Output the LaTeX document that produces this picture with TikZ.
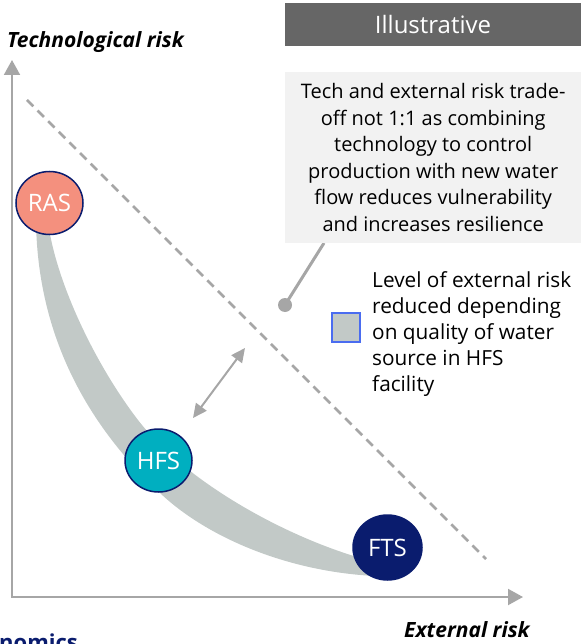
\documentclass[tikz,border=0pt]{standalone}
\usepackage{fontspec}
\setmainfont{Open Sans}
\usetikzlibrary{arrows.meta,shapes.geometric}
\definecolor{navy}{HTML}{0A1C6E}
\definecolor{axisgray}{HTML}{A6A6A6}
\definecolor{bandgray}{HTML}{C2C9C7}
\definecolor{tagdark}{HTML}{666666}
\definecolor{notebg}{HTML}{F2F2F2}
\definecolor{rasfill}{HTML}{F4907E}
\definecolor{hfsfill}{HTML}{00AFC0}
\definecolor{legendblue}{HTML}{4A6CF0}
\tikzset{
  bigtip/.tip={Triangle[length=15pt,width=16pt]},
  smalltip/.tip={Triangle[length=14pt,width=13pt]}
}
\begin{document}
\begin{tikzpicture}[x=1pt,y=-1pt,
  axisline/.style={draw=axisgray, line width=2pt},
  tech/.style={ellipse, minimum width=67pt, minimum height=63pt, inner sep=0pt,
    text=white, font=\fontsize{24}{28}\selectfont, line width=1.5pt, draw=navy},
  axislabel/.style={font=\fontsize{21}{25}\selectfont\bfseries\itshape, inner sep=0pt},
  bodytext/.style={font=\fontsize{20}{26.5}\selectfont, inner sep=0pt}
]
\useasboundingbox (0,0) rectangle (583,644);

% risk band between the three production systems
\fill[bandgray]
  (48,222) .. controls (56,282) and (95,364) .. (138,420)
  .. controls (188,485) and (295,542) .. (375,562)
  -- (375,576)
  .. controls (285,571.5) and (205,535.8) .. (160,493)
  .. controls (95,432) and (38,345) .. (36,222)
  -- cycle;

% axes
\coordinate (origin) at (12,597);
\coordinate (ytip) at (12,60);
\coordinate (xtip) at (523,597);
\draw[axisline, bigtip-bigtip] (ytip) -- (origin) -- (xtip);
\node[axislabel, anchor=base west] (ylabel) at (7,48) {Technological risk};
\node[axislabel, anchor=base west] (xlabel) at (404,637) {External risk};

% 1:1 trade-off line
\coordinate (dashA) at (27,100);
\coordinate (dashB) at (486,559);
\draw[axisgray, line width=2.5pt, dash pattern=on 9pt off 6pt] (dashA) -- (dashB);

% gap between the band and the 1:1 line
\coordinate (gapA) at (193,418);
\coordinate (gapB) at (245,348);
\draw[axisgray, line width=2pt, smalltip-smalltip] (gapA) -- (gapB);

% tag
\node[fill=tagdark, minimum width=296pt, minimum height=43pt, inner sep=0pt,
  text=white, font=\fontsize{24}{28}\selectfont] (tag) at (433,24.5) {Illustrative};

% callout and its pointer
\coordinate (pin) at (285,305);
\coordinate (pinend) at (324,243);
\draw[axisgray, line width=3pt] (pin) -- (pinend);
\fill[axisgray] (pin) circle (7);
\node[fill=notebg, minimum width=296pt, minimum height=171pt, anchor=north west,
  bodytext, align=center] (note) at (285,72)
  {Tech and external risk trade-\\off not 1:1 as combining\\technology to control\\production with new water\\flow reduces vulnerability\\and increases resilience};

% legend
\node[fill=bandgray, draw=legendblue, line width=1.5pt, minimum width=28pt,
  minimum height=29pt, inner sep=0pt] (legbox) at (346,327.5) {};
\node[bodytext, font=\fontsize{20.8}{26}\selectfont, align=left, anchor=north west]
  (legtext) at (372,271.5)
  {Level of external risk\\reduced depending\\on quality of water\\source in HFS\\facility};

% production systems
\node[tech, fill=rasfill] (ras) at (49.5,203) {RAS};
\node[tech, fill=hfsfill] (hfs) at (158.5,460.5) {HFS};
\node[tech, fill=navy, minimum width=69pt, minimum height=65pt] (fts) at (387.5,547.5) {FTS};

% heading
\node[font=\fontsize{22}{26}\selectfont\bfseries, text=navy, anchor=base west,
  inner sep=0pt] (title) at (-1,650) {nomics};
\end{tikzpicture}
\end{document}
